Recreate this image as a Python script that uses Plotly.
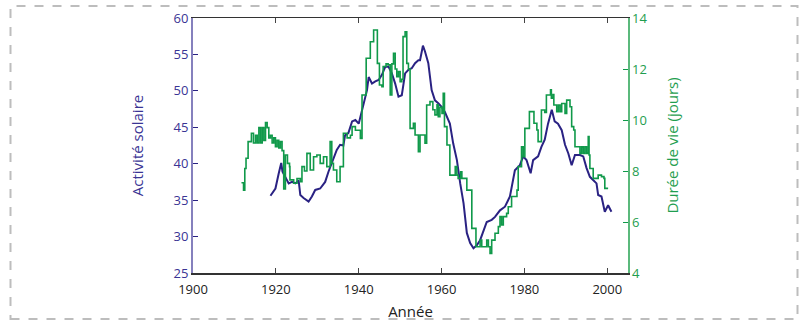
import plotly.graph_objects as go

# ---- data ----
act_years = [1918.7, 1919.9, 1920.7, 1921.3, 1921.6, 1922.5, 1923.1, 1923.9, 1924.7, 1925.5,
             1925.9, 1926.7, 1927.9, 1928.7, 1929.5, 1930.7, 1931.9, 1932.7, 1933.5, 1934.7,
             1935.5, 1936.3, 1936.7, 1937.5, 1938.4, 1939.2, 1940.0, 1940.4, 1941.2, 1942.0,
             1942.4, 1943.2, 1944.0, 1944.8, 1945.6, 1946.4, 1947.2, 1948.0, 1948.8, 1949.6,
             1950.4, 1951.2, 1952.0, 1952.8, 1953.6, 1954.4, 1954.8, 1955.5, 1956.0, 1956.8,
             1957.6, 1958.4, 1959.2, 1960.0, 1960.8, 1961.6, 1962.0, 1962.8, 1963.7, 1964.5,
             1965.3, 1966.1, 1966.9, 1967.7, 1968.5, 1969.3, 1970.1, 1970.9, 1972.1, 1972.9,
             1974.1, 1975.3, 1976.5, 1977.7, 1978.9, 1979.7, 1980.5, 1981.5, 1982.1, 1983.3,
             1984.1, 1984.9, 1985.7, 1986.6, 1987.3, 1988.1, 1989.0, 1989.8, 1990.6, 1991.4,
             1992.2, 1993.4, 1994.2, 1995.0, 1995.8, 1996.6, 1997.4, 1997.8, 1998.6, 1999.4,
             2000.2, 2001.0]
act_values = [35.6, 36.6, 38.7, 40.1, 38.9, 37.8, 37.3, 37.5, 37.3, 37.7,
              35.7, 35.3, 34.8, 35.5, 36.4, 36.6, 37.5, 38.9, 40.1, 41.9,
              42.6, 42.5, 43.9, 44.2, 45.8, 46.0, 45.5, 46.5, 48.3, 50.1,
              51.9, 51.0, 51.3, 51.5, 52.2, 53.3, 53.3, 52.4, 51.0, 49.2,
              49.4, 52.4, 52.9, 53.1, 53.8, 54.2, 54.2, 56.2, 55.4, 53.8,
              50.1, 48.7, 48.3, 47.8, 47.1, 46.0, 45.5, 42.8, 40.5, 37.3,
              34.6, 30.5, 29.1, 28.4, 28.8, 29.5, 30.9, 32.0, 32.3, 32.7,
              33.6, 34.1, 35.5, 39.1, 39.8, 41.0, 40.5, 38.7, 40.5, 41.0,
              42.3, 43.3, 45.5, 47.4, 45.8, 45.5, 44.6, 42.6, 41.4, 39.8,
              41.2, 41.2, 41.0, 39.4, 38.2, 37.8, 37.3, 35.7, 35.5, 33.4,
              34.3, 33.4]

life_years = [1911.7, 1912.2, 1912.5, 1912.8, 1913.3, 1914.1, 1914.6, 1915.1, 1915.5, 1915.9,
              1916.3, 1916.7, 1917.1, 1917.5, 1917.9, 1918.3, 1918.7, 1919.1, 1919.5, 1919.9,
              1920.3, 1920.7, 1921.1, 1921.5, 1921.9, 1922.3, 1922.8, 1923.3, 1923.4, 1924.3,
              1925.1, 1925.9, 1926.3, 1926.9, 1927.5, 1928.3, 1929.1, 1929.9, 1930.7, 1931.5,
              1932.3, 1933.1, 1933.5, 1933.9, 1934.7, 1935.5, 1936.3, 1937.2, 1938.0, 1938.4,
              1939.2, 1940.4, 1940.8, 1941.8, 1942.8, 1943.6, 1944.5, 1945.0, 1945.6, 1945.9,
              1946.6, 1947.1, 1947.6, 1948.0, 1948.4, 1948.8, 1949.2, 1949.6, 1950.0, 1950.4,
              1950.7, 1951.2, 1951.6, 1952.0, 1952.4, 1953.2, 1953.6, 1954.4, 1954.8, 1956.0,
              1956.4, 1957.2, 1957.9, 1958.4, 1958.9, 1959.2, 1959.6, 1960.1, 1960.4, 1960.7,
              1961.3, 1962.0, 1963.3, 1963.7, 1964.0, 1964.6, 1964.9, 1966.1, 1967.3, 1968.3,
              1969.3, 1969.7, 1970.9, 1971.3, 1971.7, 1972.1, 1972.9, 1973.7, 1974.1, 1974.5,
              1974.9, 1975.7, 1976.1, 1976.9, 1978.2, 1978.5, 1979.3, 1979.7, 1980.1, 1981.2,
              1982.3, 1983.0, 1983.3, 1984.1, 1984.9, 1985.3, 1986.3, 1986.5, 1986.9, 1987.1,
              1987.8, 1988.2, 1988.6, 1989.0, 1989.8, 1990.2, 1991.0, 1991.4, 1991.9, 1992.2,
              1993.4, 1993.8, 1994.2, 1994.6, 1995.0, 1995.4, 1995.6, 1995.8, 1996.6, 1997.8,
              1998.6, 1999.2, 1999.4, 2000.2]
life_values = [7.54, 7.25, 8.1, 8.5, 9.15, 9.48, 9.1, 9.4, 9.1, 9.7,
               9.1, 9.7, 9.2, 9.9, 9.7, 9.3, 9.4, 9.1, 9.3, 8.95,
               9.2, 8.9, 9.15, 8.8, 7.3, 8.63, 8.3, 8.17, 7.65, 7.52,
               7.7, 7.58, 8.17, 8.0, 8.69, 8.04, 8.56, 8.63, 8.3, 8.56,
               8.17, 9.15, 8.3, 8.04, 7.58, 8.17, 9.48, 9.3, 9.4, 9.74,
               9.6, 9.28, 10.98, 12.42, 13.07, 13.53, 12.22, 11.37, 11.31, 12.1,
               12.2, 12.16, 10.98, 12.2, 12.62, 12.0, 11.7, 11.9, 11.5, 11.6,
               13.27, 13.46, 12.22, 12.0, 9.67, 9.87, 9.41, 8.76, 9.41, 9.09,
               10.59, 10.72, 10.4, 10.2, 10.6, 10.13, 10.5, 10.26, 11.05, 9.74,
               9.02, 7.84, 8.17, 7.84, 7.71, 7.97, 7.71, 7.25, 5.75, 5.03,
               5.29, 5.03, 5.29, 5.03, 4.77, 5.29, 5.56, 5.82, 6.21, 5.88,
               6.21, 6.34, 6.6, 7.0, 7.25, 8.17, 8.95, 8.56, 9.67, 10.33,
               9.87, 9.61, 9.15, 10.39, 10.3, 10.98, 11.18, 10.85, 11.0, 10.59,
               10.33, 10.59, 10.33, 10.65, 10.26, 10.78, 10.52, 9.74, 9.61, 8.95,
               8.69, 8.95, 8.69, 8.95, 8.69, 9.35, 8.63, 8.1, 7.71, 7.84,
               7.78, 7.71, 7.32, 7.32]

x_ticks = [1900, 1920, 1940, 1960, 1980, 2000]
y_left_ticks = [25, 30, 35, 40, 45, 50, 55, 60]
y_right_ticks = [4, 6, 8, 10, 12, 14]

# ---- style ----
W, H = 803, 321
L, R, T, B = 193, 175, 18, 48
PURPLE = "#2a2283"
PURPLE_TXT = "#3a3494"
PURPLE_AXIS = "#8580bd"
GREEN = "#10994a"
GREEN_TXT = "#1f9e4f"
FONT = "Open Sans, Noto Sans, sans-serif"

fig = go.Figure()
fig.add_trace(go.Scatter(x=life_years, y=life_values, mode="lines", line_shape="hv",
                         line=dict(color=GREEN, width=1.6), yaxis="y2", showlegend=False,
                         hoverinfo="skip"))
fig.add_trace(go.Scatter(x=act_years, y=act_values, mode="lines",
                         line=dict(color=PURPLE, width=2), yaxis="y", showlegend=False,
                         hoverinfo="skip"))

pw = W - L - R
ph = H - T - B
def px_x(p):
    return (p - L) / pw
def px_y(p):
    return (H - B - p) / ph

fig.update_layout(
    width=W, height=H,
    margin=dict(l=L, r=R, t=T, b=B, pad=0, autoexpand=False),
    paper_bgcolor="white", plot_bgcolor="white",
    font=dict(family=FONT, size=13, color="#222"),
    xaxis=dict(range=[1900, 2005], tickvals=x_ticks, ticks="inside", ticklen=5,
               tickcolor="#444", linecolor="#333", linewidth=1.5, showline=True,
               mirror="ticks", showgrid=False, zeroline=False, ticklabelstandoff=4,
               automargin=False,
               tickfont=dict(size=13, color="#222"),
               title=dict(text="Année", font=dict(size=15, color="#222"), standoff=10)),
    yaxis=dict(range=[25, 60], tickvals=y_left_ticks, ticks="inside", ticklen=5,
               tickcolor=PURPLE, linecolor=PURPLE_AXIS, linewidth=2, showline=True,
               showgrid=False, zeroline=False, automargin=False,
               tickfont=dict(size=13, color=PURPLE_TXT),
               title=dict(text="Activité solaire", font=dict(size=15, color=PURPLE_TXT),
                          standoff=26)),
    yaxis2=dict(range=[4, 14], tickvals=y_right_ticks, ticks="inside", ticklen=5,
                tickcolor=GREEN, linecolor="#5bb97c", linewidth=1.5, showline=True,
                overlaying="y", side="right", showgrid=False, zeroline=False,
                automargin=False,
                tickfont=dict(size=13, color=GREEN_TXT),
                title=dict(text="Durée de vie (jours)", font=dict(size=15, color=GREEN_TXT),
                           standoff=21)),
    shapes=[dict(type="rect", xref="paper", yref="paper",
                 x0=px_x(10.5), x1=px_x(797.5), y0=px_y(319), y1=px_y(6),
                 line=dict(color="#bdbdbd", width=2, dash="dash"), layer="below")],
)

fig.write_html("out.html",
               config={"displayModeBar": False, "staticPlot": True},
               post_script="document.body.style.margin='0px';document.body.style.overflow='hidden';")
